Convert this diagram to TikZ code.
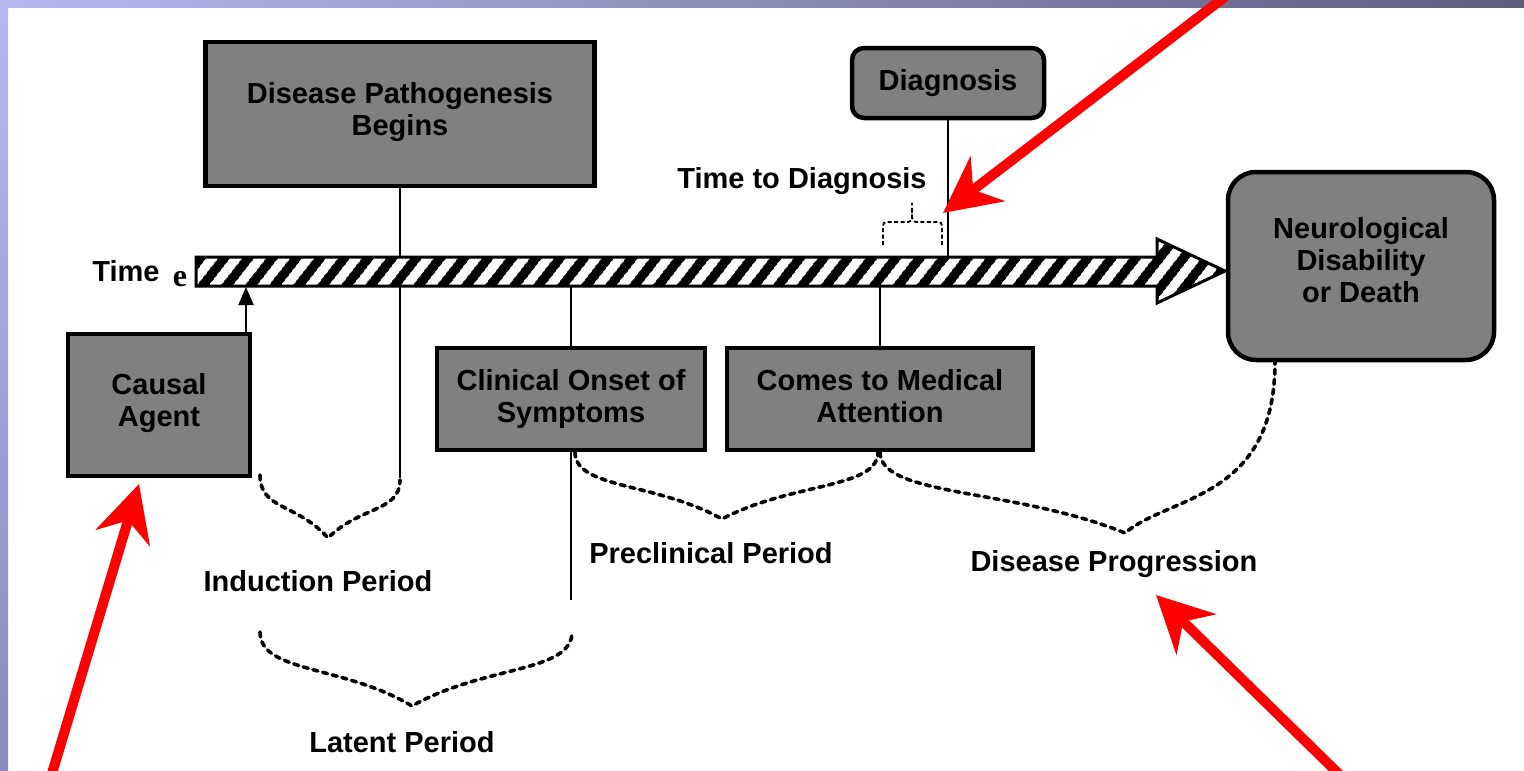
\documentclass[tikz,border=0pt]{standalone}
\usepackage{fontspec}
\setmainfont{Liberation Sans}
\newfontfamily\scanserif{Liberation Serif}
\usetikzlibrary{arrows.meta,patterns.meta}
\definecolor{boxgray}{HTML}{808080}
\definecolor{bandlight}{HTML}{B8B8F0}
\definecolor{banddark}{HTML}{5E5E80}
\definecolor{bandleft}{HTML}{8A8ABC}
\tikzset{
  stage/.style={draw=black, line width=4.5pt, fill=boxgray, align=center, inner sep=0pt,
    font=\fontsize{29}{32}\selectfont\bfseries},
  endstage/.style={stage, rounded corners=28pt},
  lbl/.style={font=\fontsize{29}{32}\selectfont\bfseries, inner sep=0pt, anchor=base},
  tick/.style={line width=2pt},
  brace/.style={line width=3.6pt, dash pattern=on 5pt off 5pt, line cap=round},
  smallbrace/.style={line width=1.8pt, dash pattern=on 4pt off 2.5pt},
  pointer/.style={red, line width=10pt, -{Stealth[length=56pt,width=56pt,inset=18pt]}}
}
\begin{document}
\begin{tikzpicture}[x=1pt,y=-1pt]
  \useasboundingbox (0,0) rectangle (1524,771);
  % frame
  \fill[white] (0,0) rectangle (1524,771);
  \shade[left color=bandlight, right color=banddark] (0,0) rectangle (1524,7);
  \shade[top color=bandlight, bottom color=bandleft] (0,0) rectangle (8,771);

  \coordinate (barup) at (0,257);
  \coordinate (bardown) at (0,286);
  \coordinate (caustip) at (246,287);
  \coordinate (indR) at (400,478);
  \coordinate (onsetend) at (572,600);

  % boxes
  \node[stage, text depth=10pt, minimum width=389pt, minimum height=144pt] (pathog) at (400,114) {Disease Pathogenesis\\Begins};
  \node[stage, text depth=10pt, minimum width=182pt, minimum height=142pt] (causal) at (159,405) {Causal\\Agent};
  \node[stage, minimum width=268pt, minimum height=102pt] (onset) at (571,399) {Clinical Onset of\\Symptoms};
  \node[stage, text depth=6pt, minimum width=306pt, minimum height=102pt] (attn) at (880,399) {Comes to Medical\\Attention};
  \node[endstage, rounded corners=12pt, minimum width=192pt, minimum height=70pt] (diag) at (948,83) {Diagnosis};
  \node[endstage, text depth=12pt, minimum width=266pt, minimum height=188pt] (neuro) at (1361,266) {Neurological\\Disability\\ or Death};

  % ticks
  \draw[tick] (pathog.south) -- (pathog.south |- indR);
  \draw[tick] (diag.south) -- (diag.south |- barup);
  \draw[tick] (onset.north) -- (onset.north |- bardown);
  \draw[tick] (onset.south) -- (onset.south |- onsetend);
  \draw[tick] (attn.north) -- (attn.north |- bardown);
  \draw[tick, -{Triangle[length=18pt,width=15pt]}] (causal.north -| caustip) -- (caustip);

  % time bar
  \draw[line width=3pt, preaction={fill=black},
    pattern={Lines[angle=52,distance=19.5pt,line width=10pt]}, pattern color=white]
    (196,257) -- (1157,257) -- (1157,239) -- (1225,271) -- (1157,303) -- (1157,286) -- (196,286) -- cycle;

  % braces
  \draw[brace] (260,475) .. controls (260,510) and (297,503) .. (328,538) .. controls (360,506) and (400,512) .. (400,480);
  \draw[brace] (260,632) .. controls (260,673) and (344,665) .. (412,706) .. controls (484,665) and (572,673) .. (572,632);
  \draw[brace] (575,452) .. controls (575,489) and (656,482) .. (722,519) .. controls (792,482) and (878,489) .. (878,452);
  \draw[brace] (880,452) .. controls (880,497) and (1015,488) .. (1125,533) .. controls (1170,495) and (1275,500) .. (1275,362);
  \draw[smallbrace] (883,245) -- (883,230) .. controls (883,222) .. (891,222) -- (904,222) .. controls (912,222) .. (912,212) -- (912,203);
  \draw[smallbrace] (942,245) -- (942,230) .. controls (942,222) .. (934,222) -- (920,222) .. controls (912,222) .. (912,212);

  % labels
  \node[lbl] (timelbl) at (126,281) {Time};
  \node[lbl, font=\scanserif\fontsize{32}{32}\selectfont\bfseries] (stray) at (180,286) {e};
  \node[lbl] (ttd) at (802,188) {Time to Diagnosis};
  \node[lbl] (induct) at (318,591) {Induction Period};
  \node[lbl] (latent) at (402,752) {Latent Period};
  \node[lbl] (precl) at (711,563) {Preclinical Period};
  \node[lbl] (progr) at (1114,571) {Disease Progression};

  % red pointers
  \coordinate (ptrtop) at (943,213);
  \coordinate (ptrcause) at (139,484);
  \coordinate (ptrprog) at (1156,595);
  \draw[pointer] (1226,-4) -- (ptrtop);
  \draw[pointer] (50,780) -- (ptrcause);
  \draw[pointer] (1345,780) -- (ptrprog);
\end{tikzpicture}
\end{document}
